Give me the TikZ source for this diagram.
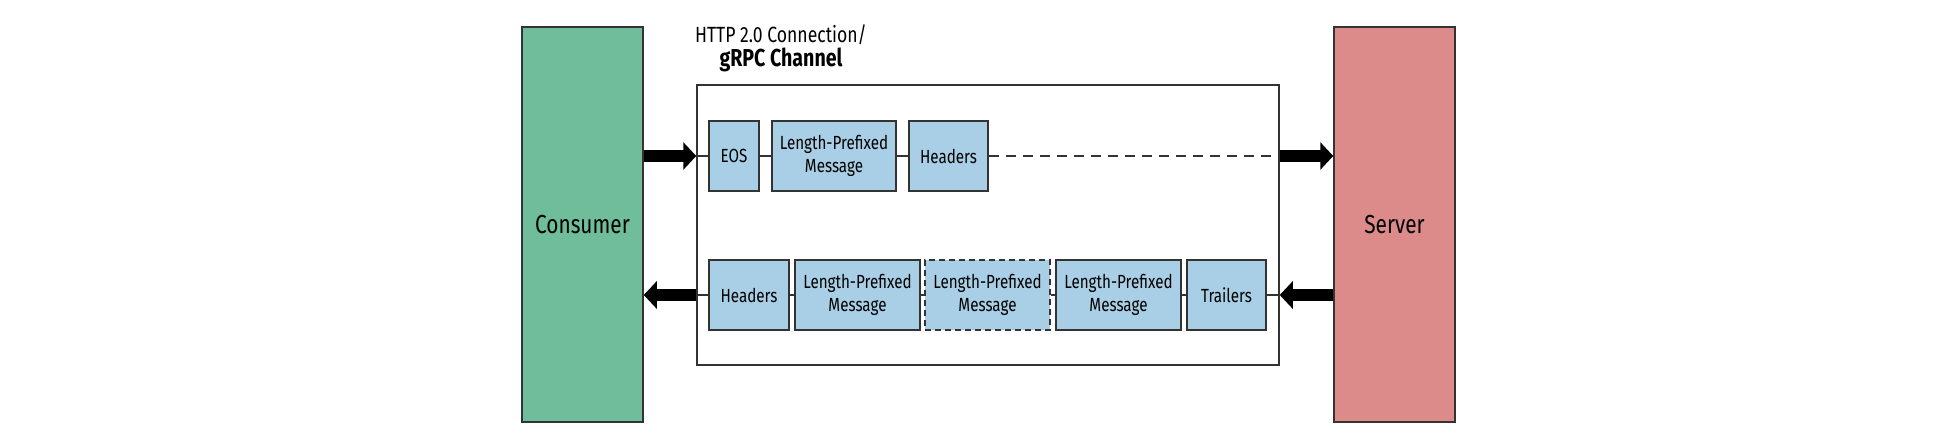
\documentclass[tikz,border=0pt]{standalone}
\usepackage{fontspec}
\setmainfont[FakeStretch=0.8]{Fira Sans}
\usetikzlibrary{arrows.meta}
\definecolor{cgreen}{HTML}{6FBD9A}
\definecolor{cred}{HTML}{DC8A8A}
\definecolor{cblue}{HTML}{A8CFE5}
\definecolor{cline}{HTML}{333333}
\begin{document}
\begin{tikzpicture}[x=1pt,y=-1pt,
  box/.style={draw=cline, line width=1.5pt, fill=cblue, inner sep=0pt, minimum height=70pt, align=center, font=\fontsize{19}{23}\selectfont},
  actor/.style={draw=cline, line width=1.5pt, minimum width=121pt, minimum height=395pt, inner sep=0pt, font=\fontsize{26}{30}\selectfont},
  link/.style={draw=cline, line width=1.2pt},
  dashlink/.style={draw=cline, line width=1.2pt, dash pattern=on 10pt off 7pt},
  bigarrow/.style={line width=12.7pt, -{Triangle[length=13pt,width=27pt]}, black},
]
\useasboundingbox (0,0) rectangle (1955,439);
% actors
\node[actor, fill=cgreen] (cons) at (582.5,224.5) {Consumer};
\node[actor, fill=cred] (srv) at (1394.5,224.5) {Server};
% channel
\node[draw=cline, line width=1.5pt, minimum width=582pt, minimum height=280pt, inner sep=0pt] (chan) at (988,225) {};
\node[anchor=base, font=\fontsize{22}{26}\selectfont] (t1) at (781,42) {HTTP 2.0 Connection/};
\node[anchor=base, font=\fontsize{24.5}{28}\selectfont\bfseries] (t2) at (781,66) {gRPC Channel};
% top row
\node[box, minimum width=50pt] (eos) at (734,156) {EOS};
\node[box, minimum width=124pt] (lpm) at (834,156) {Length-Prefixed\\Message};
\node[box, minimum width=79pt] (hdr1) at (948.5,156) {Headers};
% bottom row
\node[box, minimum width=80pt] (hdr2) at (749,295) {Headers};
\node[box, minimum width=125pt] (m1) at (857.5,295) {Length-Prefixed\\Message};
\node[box, minimum width=125pt, dash pattern=on 6pt off 4pt] (m2) at (987.5,295) {Length-Prefixed\\Message};
\node[box, minimum width=125pt] (m3) at (1118.5,295) {Length-Prefixed\\Message};
\node[box, minimum width=79pt] (trl) at (1226.5,295) {Trailers};
% links
\draw[link] (chan.west |- eos.west) -- (eos.west);
\draw[link] (eos.east) -- (lpm.west);
\draw[link] (lpm.east) -- (hdr1.west);
\draw[dashlink] (hdr1.east) -- (chan.east |- hdr1.east);
\draw[link] (chan.west |- hdr2.west) -- (hdr2.west);
\draw[link] (hdr2.east) -- (m1.west);
\draw[link] (m1.east) -- (m2.west);
\draw[link] (m2.east) -- (m3.west);
\draw[link] (m3.east) -- (trl.west);
\draw[link] (trl.east) -- (chan.east |- trl.east);
% big arrows
\draw[bigarrow] (cons.east |- eos.west) -- (chan.west |- eos.west);
\draw[bigarrow] (chan.east |- hdr1.east) -- (srv.west |- hdr1.east);
\draw[bigarrow] (srv.west |- trl.east) -- (chan.east |- trl.east);
\draw[bigarrow] (chan.west |- hdr2.west) -- (cons.east |- hdr2.west);
\end{tikzpicture}
\end{document}
